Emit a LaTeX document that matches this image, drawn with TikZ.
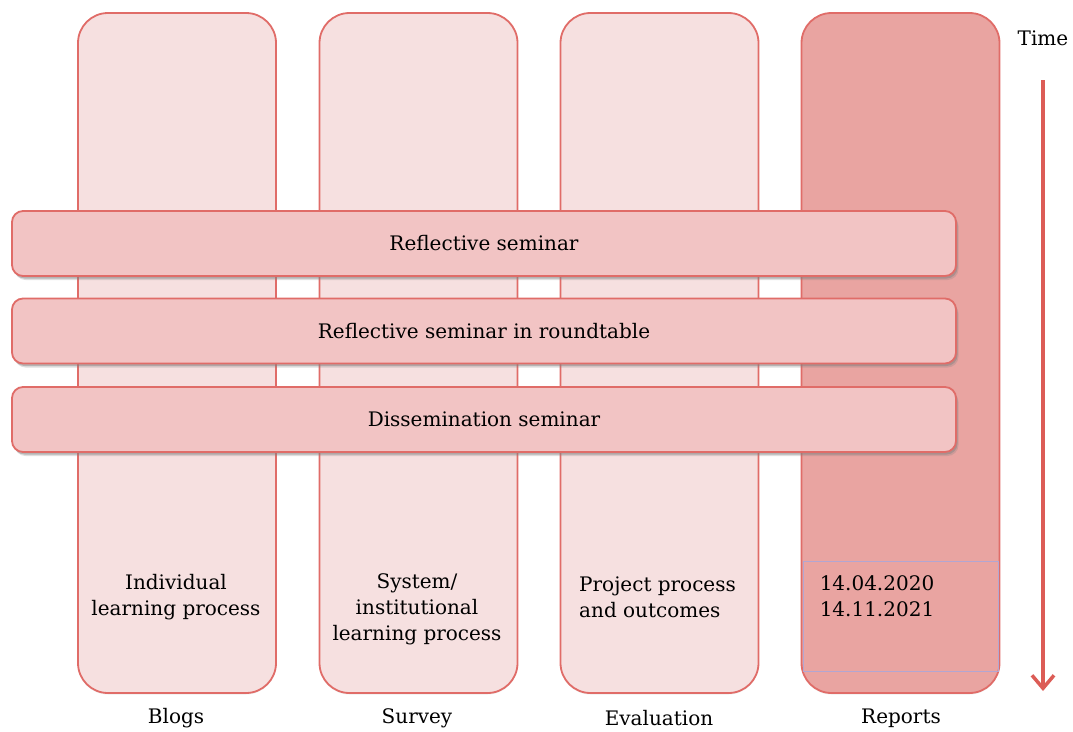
\documentclass[tikz,border=0pt]{standalone}
\usepackage{fontspec}
\setmainfont{DejaVu Serif}
\usetikzlibrary{shadows,arrows.meta}
\definecolor{colfill}{RGB}{246,224,224}
\definecolor{repfill}{RGB}{233,164,161}
\definecolor{barfill}{RGB}{242,196,196}
\definecolor{edge}{RGB}{224,108,104}
\definecolor{arrowc}{RGB}{220,92,86}
\definecolor{boxline}{RGB}{178,166,210}
\tikzset{
  colbox/.style={draw=edge, line width=1.8pt, fill=colfill, rounded corners=30pt,
    minimum width=198pt, minimum height=680pt, inner sep=0pt,
    drop shadow={shadow xshift=0pt, shadow yshift=-1.5pt, opacity=0.15}},
  repbox/.style={colbox, fill=repfill},
  barbox/.style={draw=edge, line width=1.8pt, fill=barfill, rounded corners=11pt,
    minimum width=944pt, minimum height=65pt, inner sep=0pt,
    drop shadow={shadow xshift=2.5pt, shadow yshift=-4pt, opacity=0.25},
    drop shadow={shadow xshift=1.5pt, shadow yshift=-2.5pt, opacity=0.45}},
  txt/.style={font=\fontsize{20}{26}\selectfont, inner sep=0pt, text=black},
}
\begin{document}
\begin{tikzpicture}[x=1pt,y=-1pt]
\useasboundingbox (0,0) rectangle (1073,731);
% columns
\node[colbox] (c1) at (177,353) {};
\node[colbox] (c2) at (418.5,353) {};
\node[colbox] (c3) at (659.5,353) {};
\node[repbox] (c4) at (900.5,353) {};
% inner box in reports column
\node[draw=boxline, line width=1pt, minimum width=195pt, minimum height=110pt, inner sep=0pt] (rb) at (900.5,616) {};
% bars
\node[barbox] (b1) at (484,243.5) {};
\node[barbox] (b2) at (484,331) {};
\node[barbox] (b3) at (484,419.5) {};
\node[txt] (t1) at (b1) {Reflective seminar};
\node[txt] (t2) at (b2) {Reflective seminar in roundtable};
\node[txt] (t3) at (b3) {Dissemination seminar};
% column texts
\node[txt, align=center] (d1) at (176,597) {Individual\\learning process};
\node[txt, align=center] (d2) at (417,609) {System/\\institutional\\learning process};
\node[txt, align=left, anchor=west] (d3) at (579,597) {Project process\\and outcomes};
\node[txt, align=center] (d4) at (877,596) {14.04.2020\\14.11.2021};
% bottom labels
\node[txt] (l1) at (176,718) {Blogs};
\node[txt] (l2) at (417,718) {Survey};
\node[txt] (l3) at (659,718) {Evaluation};
\node[txt] (l4) at (901,718) {Reports};
\node[txt] (time) at (1043,38) {Time};
% time arrow
\coordinate (a0) at (1043,80);
\coordinate (a1) at (1043,691);
\draw[arrowc, line width=3.5pt, -{Straight Barb[length=13pt,width=22pt,line width=3.5pt]}] (a0) -- (a1);
\end{tikzpicture}
\end{document}
